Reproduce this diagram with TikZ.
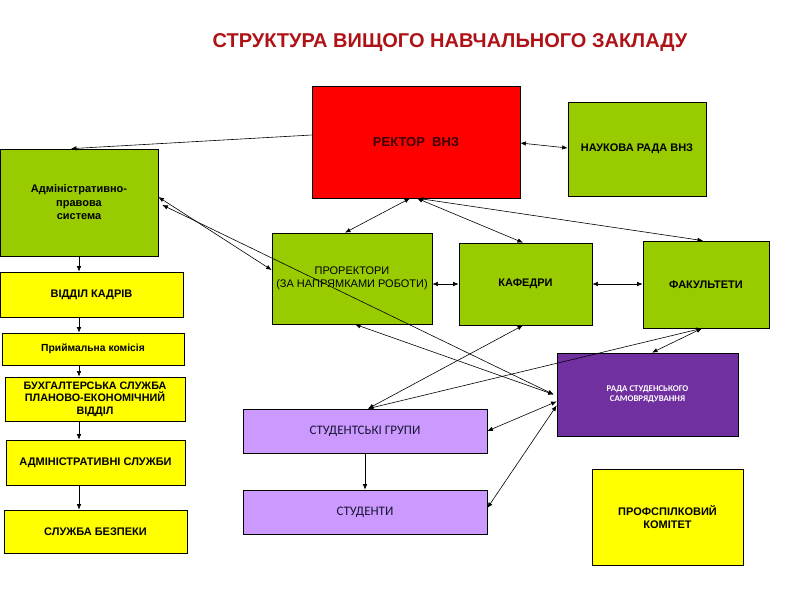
\documentclass[tikz,border=0pt]{standalone}
\usepackage{fontspec}
\setmainfont{Liberation Sans}
\newfontfamily\calib{Carlito}
\usetikzlibrary{arrows.meta,calc}
\definecolor{cgreen}{RGB}{153,204,0}
\definecolor{cred}{RGB}{255,0,0}
\definecolor{cyellow}{RGB}{255,255,0}
\definecolor{clilac}{RGB}{204,153,255}
\definecolor{cpurple}{RGB}{112,48,160}
\definecolor{ctitle}{RGB}{175,18,22}
\definecolor{crtext}{RGB}{60,0,0}
\definecolor{cnavy}{RGB}{22,22,50}
\begin{document}
\begin{tikzpicture}[x=1pt,y=-1pt,
  box/.style={draw=black, line width=0.7pt, rectangle, inner sep=0pt, align=center,
    font=\bfseries\fontsize{11}{13.5}\selectfont},
  gbox/.style={box, fill=cgreen},
  ybox/.style={box, fill=cyellow},
  lbox/.style={box, fill=clilac, text=cnavy, font=\calib\fontsize{13}{15}\selectfont},
  both/.style={line width=0.6pt, {Latex[length=5.5pt,width=4.5pt]}-{Latex[length=5.5pt,width=4.5pt]}},
  one/.style={line width=0.6pt, -{Latex[length=5.5pt,width=4.5pt]}}]
\useasboundingbox (0,0) rectangle (800,600);

\node[font=\bfseries\fontsize{20}{23}\selectfont, text=ctitle] (title) at (450,43) {СТРУКТУРА ВИЩОГО НАВЧАЛЬНОГО ЗАКЛАДУ};

\node[box, fill=cred, text=crtext, font=\bfseries\fontsize{13}{15}\selectfont, minimum width=208pt, minimum height=112pt] (rector) at (416,142) {РЕКТОР\ \ ВНЗ};
\node[gbox, font=\bfseries\fontsize{11}{13}\selectfont, minimum width=138pt, minimum height=94pt] (nauk) at (637,149) {НАУКОВА РАДА ВНЗ};
\node[gbox, minimum width=158pt, minimum height=107pt] (admin) at (79,202.5) {Адміністративно-\\правова\\система};

\node[ybox, minimum width=183pt, minimum height=45pt] (kadry) at (91.5,294.5) {ВІДДІЛ КАДРІВ};
\node[ybox, font=\bfseries\fontsize{10.3}{12}\selectfont, minimum width=182pt, minimum height=32pt] (pryim) at (93,349) {\raisebox{-5pt}{Приймальна комісія}};
\node[ybox, font=\bfseries\fontsize{10.8}{12.5}\selectfont, minimum width=180pt, minimum height=44pt] (bukh) at (95,399) {БУХГАЛТЕРСЬКА СЛУЖБА\\ПЛАНОВО-ЕКОНОМІЧНИЙ\\ВІДДІЛ};
\node[ybox, minimum width=179pt, minimum height=45pt] (adminsl) at (95.5,462.5) {АДМІНІСТРАТИВНІ СЛУЖБИ};
\node[ybox, minimum width=183pt, minimum height=43pt] (bezp) at (95.5,531.5) {СЛУЖБА БЕЗПЕКИ};

\node[gbox, font=\fontsize{11}{12.5}\selectfont, minimum width=160pt, minimum height=91pt] (prorek) at (352,278.5) {ПРОРЕКТОРИ\\(ЗА НАПРЯМКАМИ РОБОТИ)};
\node[gbox, minimum width=133pt, minimum height=82pt] (kaf) at (525.5,284) {КАФЕДРИ};
\node[gbox, minimum width=126pt, minimum height=87pt] (fak) at (706,284.5) {ФАКУЛЬТЕТИ};

\node[box, fill=cpurple, text=white, font=\calib\bfseries\fontsize{8.8}{10.5}\selectfont, minimum width=181pt, minimum height=83pt] (rada) at (647.5,394.5) {РАДА СТУДЕНСЬКОГО\\САМОВРЯДУВАННЯ};
\node[lbox, minimum width=244pt, minimum height=44pt] (grupy) at (365,431) {СТУДЕНТСЬКІ ГРУПИ};
\node[lbox, minimum width=244pt, minimum height=44pt] (stud) at (365,512) {СТУДЕНТИ};
\node[ybox, minimum width=151pt, minimum height=96pt] (prof) at (667.5,517) {ПРОФСПІЛКОВИЙ\\КОМІТЕТ};

% connectors
\draw[one] ([yshift=7pt]rector.west) -- ([xshift=-8pt]admin.north);
\draw[both] ([yshift=-1pt]rector.east) -- ([yshift=1pt]nauk.west);
\draw[both] ([xshift=-6pt]rector.south) -- ([xshift=-7pt]prorek.north);
\draw[both] ([xshift=1pt]rector.south) -- ([xshift=-2.5pt]kaf.north);
\draw[both] ([xshift=2pt]rector.south) -- ([xshift=-3pt]fak.north);
\draw[both] (kaf.west -| prorek.east) -- (kaf.west);
\draw[both] (kaf.east) -- (kaf.east -| fak.west);
\draw[both] ([yshift=5.5pt]admin.east) -- ([yshift=8.5pt]prorek.west);
\draw[both] ([xshift=4pt,yshift=-2.5pt]admin.east) -- ([xshift=-3pt]rada.west);
\draw[both] ([xshift=3pt]prorek.south) -- ([xshift=-3pt]rada.west);
\draw[both] ([xshift=-2.5pt]kaf.south) -- ([xshift=3pt]grupy.north);
\draw[both] ([xshift=-4pt]fak.south) -- ([xshift=3pt]grupy.north);
\draw[both] ([xshift=-4pt]fak.south) -- ([xshift=4.5pt]rada.north);
\draw[both] ([yshift=-7pt]rada.west) -- (grupy.east);
\draw[both] ([yshift=-11pt]rada.west) -- ([yshift=4pt]stud.east);
\draw[one] (grupy.south) -- (stud.north);

\draw[one] (admin.south) -- (admin.south |- kadry.north);
\draw[one] (kadry.south -| admin.south) -- (pryim.north -| admin.south);
\draw[one] (pryim.south -| admin.south) -- (bukh.north -| admin.south);
\draw[one] (bukh.south -| admin.south) -- (adminsl.north -| admin.south);
\draw[one] (adminsl.south -| admin.south) -- (bezp.north -| admin.south);
\end{tikzpicture}
\end{document}
